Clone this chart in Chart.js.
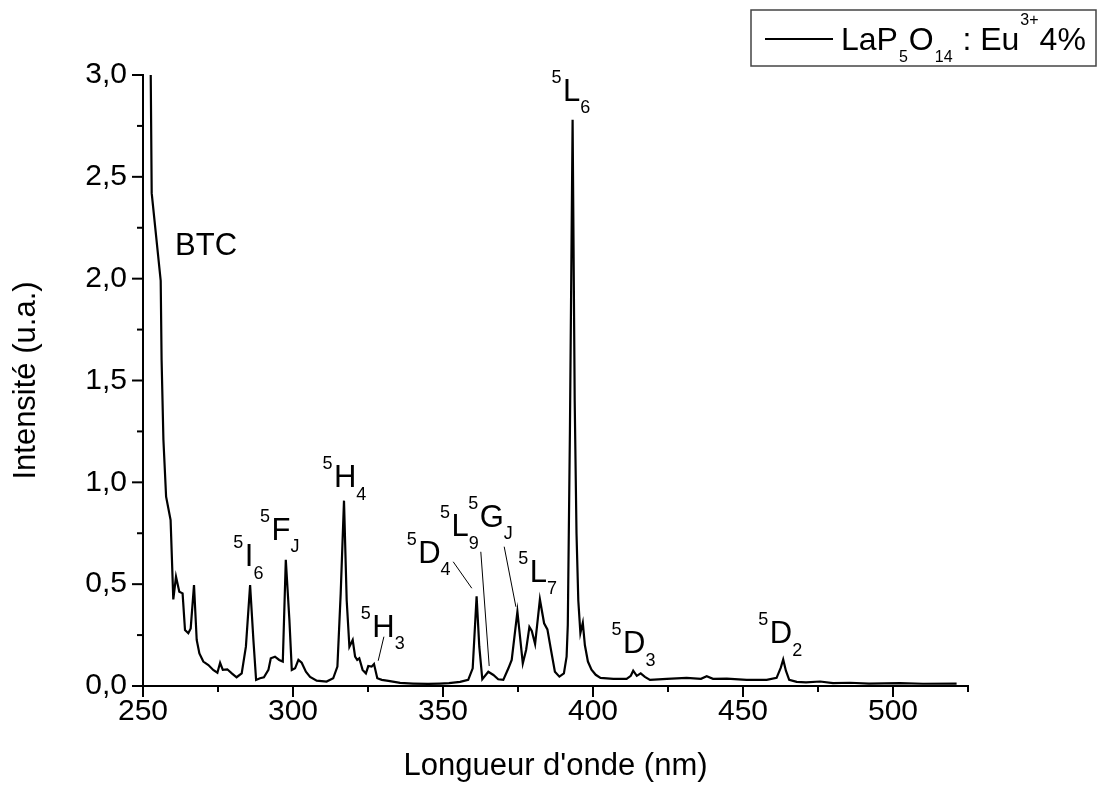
<!DOCTYPE html>
<html lang="fr">
<head>
<meta charset="utf-8">
<title>Spectre d'excitation LaP5O14 : Eu3+ 4%</title>
<script src="https://cdn.jsdelivr.net/npm/chart.js@4/dist/chart.umd.min.js"></script>
<style>
  html, body { margin: 0; padding: 0; background: #fff; }
  canvas { display: block; }
</style>
</head>
<body>
<canvas id="espectro" width="1098" height="790"></canvas>
<script>
// Comprimento de onda (nm)
const comprimentos = [
  252.3, 252.9, 255.9, 256.2, 256.8, 257.7, 259.2, 260.1, 261.0, 262.1,
  263.2, 264.0, 265.1, 265.9, 267.0, 267.9, 268.8, 270.1, 271.8, 273.4,
  274.8, 275.7, 276.6, 278.1, 279.6, 281.2, 282.9, 284.3, 285.7, 286.8,
  287.7, 289.0, 290.3, 291.8, 292.6, 294.0, 295.4, 296.6, 297.6, 298.8,
  299.6, 300.7, 301.8, 302.9, 304.3, 305.7, 307.9, 311.2, 313.4, 314.8,
  315.9, 317.0, 317.9, 318.8, 319.9, 320.7, 321.4, 322.1, 323.2, 324.3,
  325.1, 326.2, 327.0, 328.1, 329.6, 331.8, 335.7, 340.0, 345.0, 349.0,
  352.0, 355.7, 358.4, 359.9, 361.2, 362.1, 363.1, 365.1, 366.8, 368.4,
  370.1, 371.8, 372.9, 374.8, 376.6, 377.7, 378.8, 379.6, 380.7, 382.3,
  383.7, 384.8, 386.0, 387.3, 388.8, 390.3, 391.2, 391.6, 392.3, 393.2,
  393.9, 394.5, 395.1, 395.8, 396.6, 397.3, 398.3, 399.5, 400.9, 402.5,
  406.8, 411.2, 412.6, 413.4, 414.6, 415.9, 417.3, 419.0, 424.6, 431.2,
  436.0, 437.9, 440.0, 444.6, 451.2, 457.9, 461.2, 462.6, 463.4, 464.3,
  465.4, 467.9, 471.0, 475.7, 480.0, 485.7, 492.0, 502.3, 510.0, 521.2
];

// Intensidade (u.a.) correspondente
const intensidades = [
  3.50, 2.42, 1.99, 1.60, 1.21, 0.93, 0.815, 0.425, 0.537, 0.463,
  0.455, 0.275, 0.259, 0.283, 0.496, 0.226, 0.160, 0.120, 0.103, 0.079,
  0.065, 0.114, 0.079, 0.082, 0.062, 0.043, 0.062, 0.193, 0.496, 0.226,
  0.030, 0.038, 0.043, 0.079, 0.136, 0.144, 0.128, 0.120, 0.620, 0.324,
  0.079, 0.087, 0.128, 0.114, 0.070, 0.045, 0.026, 0.022, 0.038, 0.095,
  0.455, 0.910, 0.420, 0.193, 0.226, 0.144, 0.128, 0.136, 0.079, 0.062,
  0.098, 0.095, 0.108, 0.038, 0.030, 0.025, 0.015, 0.012, 0.010, 0.012,
  0.014, 0.020, 0.030, 0.087, 0.440, 0.193, 0.033, 0.070, 0.054, 0.033,
  0.030, 0.087, 0.128, 0.365, 0.111, 0.177, 0.290, 0.270, 0.206, 0.425,
  0.308, 0.278, 0.177, 0.070, 0.046, 0.062, 0.144, 0.300, 1.240, 2.780,
  1.400, 0.750, 0.420, 0.260, 0.310, 0.200, 0.120, 0.080, 0.055, 0.040,
  0.035, 0.035, 0.050, 0.075, 0.050, 0.062, 0.045, 0.030, 0.035, 0.040,
  0.035, 0.048, 0.035, 0.036, 0.030, 0.030, 0.040, 0.090, 0.130, 0.075,
  0.030, 0.020, 0.018, 0.022, 0.014, 0.016, 0.012, 0.014, 0.011, 0.012
];

// Marcas dos eixos
const ticksX = [250, 300, 350, 400, 450, 500];
const ticksXMenores = [275, 325, 375, 425, 475, 525];
const ticksY = [0, 0.5, 1.0, 1.5, 2.0, 2.5, 3.0];
const ticksYMenores = [0.25, 0.75, 1.25, 1.75, 2.25, 2.75];

// Rótulos das transições (posição em nm / intensidade)
const rotuloSup = ['', '5', '5', '5', '5', '5', '5', '5', '5', '5', '5', '5'];
const rotuloTexto = ['BTC', 'I', 'F', 'H', 'H', 'D', 'L', 'G', 'L', 'L', 'D', 'D'];
const rotuloSub = ['', '6', 'J', '4', '3', '4', '9', 'J', '7', '6', '3', '2'];
const rotuloX = [260.7, 280.1, 289.0, 309.8, 322.6, 337.9, 349.0, 358.4, 375.1, 386.2, 406.2, 455.1];
const rotuloY = [2.116, 0.589, 0.717, 0.977, 0.242, 0.605, 0.736, 0.782, 0.512, 2.873, 0.160, 0.210];

// Linhas de chamada [x1, y1, x2, y2]
const linhasChamada = [
  [330.3, 0.242, 328.4, 0.124],
  [353.4, 0.610, 359.6, 0.480],
  [362.6, 0.659, 365.4, 0.098],
  [370.4, 0.684, 374.3, 0.389]
];

const fonte = '"Liberation Sans", Arial, sans-serif';

// Desenha o termo espectroscópico com expoente e índice
function desenhaTermo(ctx, x, y, sup, texto, sub) {
    let cx = x;
    if (sup) {
        ctx.font = '18px ' + fonte;
        ctx.fillText(sup, cx, y - 18);
        cx += ctx.measureText(sup).width + 1.5;
    }
    ctx.font = '31px ' + fonte;
    ctx.fillText(texto, cx, y);
    cx += ctx.measureText(texto).width;
    if (sub) {
        ctx.font = '18px ' + fonte;
        ctx.fillText(sub, cx, y + 12.5);
    }
}

// Plugin para ticks menores, rótulos e legenda
const pluginExtras = {
    id: 'extras',
    afterDatasetsDraw(chart) {
        const ctx = chart.ctx;
        const sx = chart.scales.x;
        const sy = chart.scales.y;
        const area = chart.chartArea;

        ctx.save();
        ctx.strokeStyle = '#000';
        ctx.lineWidth = 2;
        // ticks do eixo X
        ticksX.concat(ticksXMenores).forEach(v => {
            const px = sx.getPixelForValue(v);
            const len = ticksX.includes(v) ? 11 : 6;
            ctx.beginPath();
            ctx.moveTo(px, area.bottom);
            ctx.lineTo(px, area.bottom + len);
            ctx.stroke();
        });
        // ticks do eixo Y
        ticksY.concat(ticksYMenores).forEach(v => {
            const py = sy.getPixelForValue(v);
            const len = ticksY.includes(v) ? 11 : 6;
            ctx.beginPath();
            ctx.moveTo(area.left, py);
            ctx.lineTo(area.left - len, py);
            ctx.stroke();
        });

        // linhas de chamada
        ctx.lineWidth = 1;
        linhasChamada.forEach(l => {
            ctx.beginPath();
            ctx.moveTo(sx.getPixelForValue(l[0]), sy.getPixelForValue(l[1]));
            ctx.lineTo(sx.getPixelForValue(l[2]), sy.getPixelForValue(l[3]));
            ctx.stroke();
        });

        // rótulos
        ctx.fillStyle = '#000';
        ctx.textAlign = 'left';
        ctx.textBaseline = 'alphabetic';
        rotuloTexto.forEach((t, i) => {
            desenhaTermo(ctx, sx.getPixelForValue(rotuloX[i]), sy.getPixelForValue(rotuloY[i]),
                rotuloSup[i], t, rotuloSub[i]);
        });

        // legenda
        ctx.strokeStyle = '#444';
        ctx.lineWidth = 1.5;
        ctx.strokeRect(751, 10, 345, 56);
        ctx.strokeStyle = '#000';
        ctx.lineWidth = 2;
        ctx.beginPath();
        ctx.moveTo(765, 39);
        ctx.lineTo(833, 39);
        ctx.stroke();

        const partes = [
            ['LaP', 0], ['5', 1], ['O', 0], ['14', 1], [' : Eu', 0], ['3+', -1], ['4%', 0]
        ];
        let cx = 841;
        const base = 50;
        partes.forEach(p => {
            if (p[1] === 0) {
                ctx.font = '32px ' + fonte;
                ctx.fillText(p[0], cx, base);
            } else {
                ctx.font = '16px ' + fonte;
                ctx.fillText(p[0], cx + 1, p[1] > 0 ? base + 12 : base - 25);
            }
            cx += ctx.measureText(p[0]).width + (p[1] !== 0 ? 2 : 0);
        });
        ctx.restore();
    }
};

new Chart(document.getElementById('espectro'), {
    type: 'line',
    data: {
        datasets: [{
            label: 'LaP5O14 : Eu3+ 4%',
            data: comprimentos.map((x, i) => ({ x: x, y: intensidades[i] })),
            borderColor: '#000',
            borderWidth: 2.2,
            pointRadius: 0,
            tension: 0,
            fill: false
        }]
    },
    options: {
        responsive: false,
        animation: false,
        devicePixelRatio: 1,
        layout: { padding: { top: 75, right: 130, left: 0, bottom: 0 } },
        plugins: {
            legend: { display: false },
            tooltip: { enabled: false }
        },
        scales: {
            x: {
                type: 'linear',
                min: 250,
                max: 525,
                afterBuildTicks: s => { s.ticks = ticksX.map(v => ({ value: v })); },
                afterFit: s => { s.height = 104; },
                grid: { display: false, drawTicks: false },
                border: { display: true, color: '#000', width: 2 },
                ticks: {
                    color: '#000',
                    padding: 8,
                    font: { family: fonte, size: 30 },
                    callback: v => String(v)
                },
                title: {
                    display: true,
                    text: "Longueur d'onde (nm)",
                    color: '#000',
                    font: { family: fonte, size: 31 },
                    padding: { top: 0, bottom: 5 }
                }
            },
            y: {
                type: 'linear',
                min: 0,
                max: 3,
                afterBuildTicks: s => { s.ticks = ticksY.map(v => ({ value: v })); },
                afterFit: s => { s.width = 143; },
                grid: { display: false, drawTicks: false },
                border: { display: true, color: '#000', width: 2 },
                ticks: {
                    color: '#000',
                    padding: 16,
                    font: { family: fonte, size: 30 },
                    callback: v => v.toFixed(1).replace('.', ',')
                },
                title: {
                    display: true,
                    text: 'Intensité (u.a.)',
                    color: '#000',
                    font: { family: fonte, size: 31 },
                    padding: { top: 8, bottom: 0 }
                }
            }
        }
    },
    plugins: [pluginExtras]
});
</script>
</body>
</html>
